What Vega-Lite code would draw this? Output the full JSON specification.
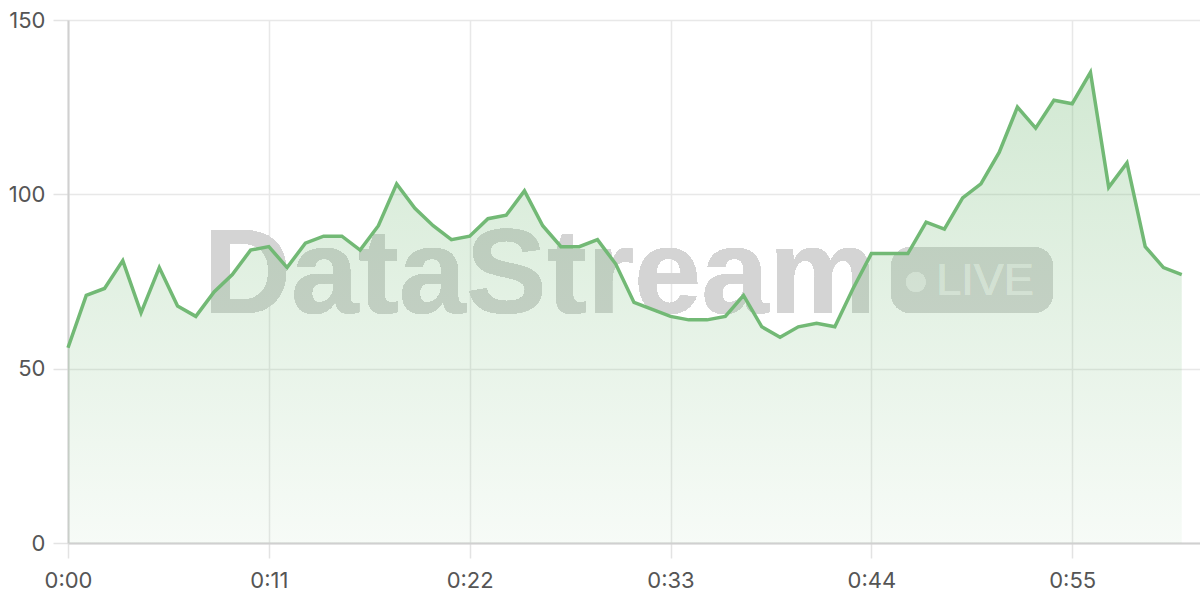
{
  "$schema": "https://vega.github.io/schema/vega-lite/v6.json",
  "autosize": {"type": "none"},
  "width": 1132,
  "height": 523,
  "padding": {"left": 68, "top": 20, "right": 0, "bottom": 57},
  "background": "white",
  "config": {
    "view": {"stroke": null},
    "axis": {
      "labelFont": "Inter",
      "labelFontSize": 22,
      "labelColor": "#555555",
      "gridColor": "#e8e8e8",
      "gridWidth": 1.5,
      "tickColor": "#e3e3e3",
      "tickWidth": 1.5,
      "tickSize": 15,
      "domainColor": "#d0d0d0",
      "domainWidth": 2,
      "labelFlush": false,
      "title": null
    }
  },
  "data": {
    "values": [
      {"t": 0, "v": 56}, {"t": 1, "v": 71}, {"t": 2, "v": 73}, {"t": 3, "v": 81},
      {"t": 4, "v": 66}, {"t": 5, "v": 79}, {"t": 6, "v": 68}, {"t": 7, "v": 65},
      {"t": 8, "v": 72}, {"t": 9, "v": 77}, {"t": 10, "v": 84}, {"t": 11, "v": 85},
      {"t": 12, "v": 79}, {"t": 13, "v": 86}, {"t": 14, "v": 88}, {"t": 15, "v": 88},
      {"t": 16, "v": 84}, {"t": 17, "v": 91}, {"t": 18, "v": 103}, {"t": 19, "v": 96},
      {"t": 20, "v": 91}, {"t": 21, "v": 87}, {"t": 22, "v": 88}, {"t": 23, "v": 93},
      {"t": 24, "v": 94}, {"t": 25, "v": 101}, {"t": 26, "v": 91}, {"t": 27, "v": 85},
      {"t": 28, "v": 85}, {"t": 29, "v": 87}, {"t": 30, "v": 80}, {"t": 31, "v": 69},
      {"t": 32, "v": 67}, {"t": 33, "v": 65}, {"t": 34, "v": 64}, {"t": 35, "v": 64},
      {"t": 36, "v": 65}, {"t": 37, "v": 71}, {"t": 38, "v": 62}, {"t": 39, "v": 59},
      {"t": 40, "v": 62}, {"t": 41, "v": 63}, {"t": 42, "v": 62}, {"t": 43, "v": 73},
      {"t": 44, "v": 83}, {"t": 45, "v": 83}, {"t": 46, "v": 83}, {"t": 47, "v": 92},
      {"t": 48, "v": 90}, {"t": 49, "v": 99}, {"t": 50, "v": 103}, {"t": 51, "v": 112},
      {"t": 52, "v": 125}, {"t": 53, "v": 119}, {"t": 54, "v": 127}, {"t": 55, "v": 126},
      {"t": 56, "v": 135}, {"t": 57, "v": 102}, {"t": 58, "v": 109}, {"t": 59, "v": 85},
      {"t": 60, "v": 79}, {"t": 61, "v": 77}
    ]
  },
  "encoding": {
    "x": {
      "field": "t",
      "type": "quantitative",
      "scale": {"domain": [0, 62], "nice": false, "zero": false},
      "axis": {
        "values": [0, 11, 22, 33, 44, 55],
        "labelExpr": "'0:' + (datum.value < 10 ? '0' : '') + datum.value",
        "labelPadding": 12,
        "grid": true
      }
    },
    "y": {
      "field": "v",
      "type": "quantitative",
      "scale": {"domain": [0, 150], "nice": false},
      "axis": {
        "values": [0, 50, 100, 150],
        "labelPadding": 8,
        "grid": true
      }
    }
  },
  "layer": [
    {
      "mark": {"type": "text", "text": "DataStream", "font": "Liberation Sans", "fontWeight": "bold", "fontSize": 121, "align": "center", "baseline": "alphabetic", "color": "#d4d4d4"},
      "encoding": {"x": {"datum": 25.85, "type": "quantitative"}, "y": {"datum": 66, "type": "quantitative"}}
    },
    {
      "mark": {"type": "rect", "cornerRadius": 20, "color": "#d6d6d6"},
      "encoding": {
        "x": {"datum": 45.08, "type": "quantitative"},
        "x2": {"datum": 53.95},
        "y": {"datum": 84.9, "type": "quantitative"},
        "y2": {"datum": 66.0}
      }
    },
    {
      "mark": {"type": "point", "filled": true, "shape": "circle", "size": 380, "color": "#ebebeb", "opacity": 1},
      "encoding": {"x": {"datum": 46.44, "type": "quantitative"}, "y": {"datum": 74.86, "type": "quantitative"}}
    },
    {
      "mark": {"type": "text", "text": "LIVE", "font": "Liberation Sans", "fontSize": 45, "align": "left", "baseline": "alphabetic", "color": "#ebebeb"},
      "encoding": {"x": {"datum": 47.55, "type": "quantitative"}, "y": {"datum": 71.1, "type": "quantitative"}}
    },
    {
      "mark": {
        "type": "area",
        "fill": {
          "gradient": "linear",
          "x1": 0, "y1": 0, "x2": 0, "y2": 1,
          "stops": [
            {"offset": 0, "color": "rgba(114,185,117,0.32)"},
            {"offset": 1, "color": "rgba(114,185,117,0.06)"}
          ]
        }
      }
    },
    {
      "mark": {"type": "line", "color": "#72b975", "strokeWidth": 3.5, "strokeJoin": "miter"}
    }
  ]
}
